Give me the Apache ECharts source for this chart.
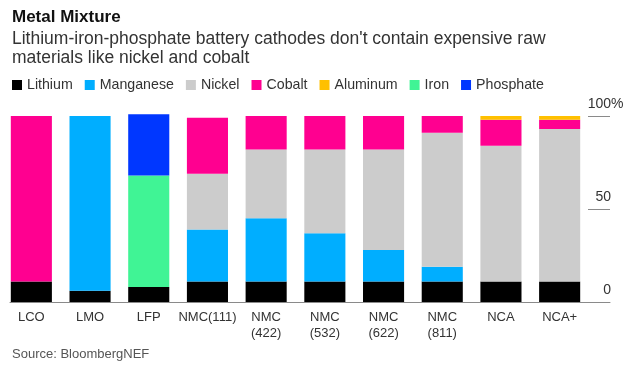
<!DOCTYPE html>
<html>
<head>
<meta charset="utf-8">
<script src="https://cdn.jsdelivr.net/npm/echarts@6/dist/echarts.min.js"></script>
<style>
html,body{margin:0;padding:0;background:#fff;}
#chart{width:632px;height:374px;}
</style>
</head>
<body>
<div id="chart"></div>
<script>
const categories = ['LCO', 'LMO', 'LFP', 'NMC(111)', 'NMC\n(422)', 'NMC\n(532)', 'NMC\n(622)', 'NMC\n(811)', 'NCA', 'NCA+'];
const lithium   = [11, 6, 8, 11, 11, 11, 11, 11, 11, 11];
const manganese = [0, 94, 0, 28, 34, 26, 17, 8, 0, 0];
const nickel    = [0, 0, 0, 30, 37, 45, 54, 72, 73, 82];
const cobalt    = [89, 0, 0, 30, 18, 18, 18, 9, 14, 5];
const aluminum  = [0, 0, 0, 0, 0, 0, 0, 0, 2, 2];
const iron      = [0, 0, 60, 0, 0, 0, 0, 0, 0, 0];
const phosphate = [0, 0, 33, 0, 0, 0, 0, 0, 0, 0];
const yTicks = [0, 50, 100];

const seriesDefs = [
  ['Lithium', lithium, '#000000'],
  ['Manganese', manganese, '#00aeff'],
  ['Nickel', nickel, '#cccccc'],
  ['Cobalt', cobalt, '#ff0090'],
  ['Aluminum', aluminum, '#ffc000'],
  ['Iron', iron, '#40f495'],
  ['Phosphate', phosphate, '#0037ff']
];

const FONT = "'Liberation Sans', Arial, sans-serif";
const chart = echarts.init(document.getElementById('chart'), null, {renderer: 'canvas'});

const option = {
  animation: false,
  backgroundColor: '#fff',
  textStyle: {fontFamily: FONT},
  title: [
    {text: 'Metal Mixture', left: 12, top: 7, padding: 0,
     textStyle: {fontSize: 17, fontWeight: 'bold', color: '#111', lineHeight: 20, fontFamily: FONT}},
    {text: 'Lithium-iron-phosphate battery cathodes don\'t contain expensive raw\nmaterials like nickel and cobalt',
     left: 12, top: 30, padding: 0,
     textStyle: {fontSize: 17.5, fontWeight: 'normal', color: '#333', lineHeight: 19, fontFamily: FONT}},
    {text: 'Source: BloombergNEF', left: 12, top: 348, padding: 0,
     textStyle: {fontSize: 13, fontWeight: 'normal', color: '#555', fontFamily: FONT}}
  ],
  legend: {
    left: 12, top: 78, padding: 0,
    icon: 'rect', itemWidth: 10, itemHeight: 10, itemGap: 12,
    textStyle: {fontSize: 14.2, color: '#333', fontFamily: FONT},
    data: seriesDefs.map(d => d[0])
  },
  grid: [
    {left: 2, right: 43, top: 116, bottom: 72},
    {left: 10, right: 22, top: 116, bottom: 72}
  ],
  xAxis: [
    {type: 'category', gridIndex: 0, data: categories,
     axisLine: {show: false}, axisTick: {show: false},
     axisLabel: {fontSize: 13, color: '#333', lineHeight: 16, margin: 7, interval: 0, fontFamily: FONT}},
    {type: 'value', gridIndex: 1, min: 0, max: 1, show: true,
     axisLine: {show: true, onZero: false, lineStyle: {color: '#8a8a8a', width: 1}},
     axisTick: {show: false}, axisLabel: {show: false}, splitLine: {show: false}}
  ],
  yAxis: [
    {type: 'value', gridIndex: 0, min: 0, max: 100, show: false},
    {type: 'value', gridIndex: 1, min: 0, max: 100, interval: 50, position: 'right',
     axisLine: {show: false, onZero: false},
     axisTick: {show: true, inside: true, length: 22, lineStyle: {color: '#8a8a8a', width: 1}},
     splitLine: {show: false},
     axisLabel: {
       inside: true, margin: -1, align: 'right', verticalAlign: 'bottom',
       padding: [0, 0, 5, 0], fontSize: 14, lineHeight: 14, color: '#333', fontFamily: FONT,
       formatter: function (v) {
         return v === 100 ? '{n|100}{p|%}' : String(v);
       },
       rich: {
         n: {align: 'left', fontSize: 14, color: '#333', fontFamily: FONT},
         p: {align: 'left', width: 0, fontSize: 14, color: '#333', fontFamily: FONT}
       }
     }}
  ],
  series: seriesDefs.map(d => ({
    name: d[0], type: 'bar', stack: 'total', xAxisIndex: 0, yAxisIndex: 0,
    data: d[1], barWidth: '70%', clip: false,
    itemStyle: {color: d[2]}
  }))
};
chart.setOption(option);
</script>
</body>
</html>
